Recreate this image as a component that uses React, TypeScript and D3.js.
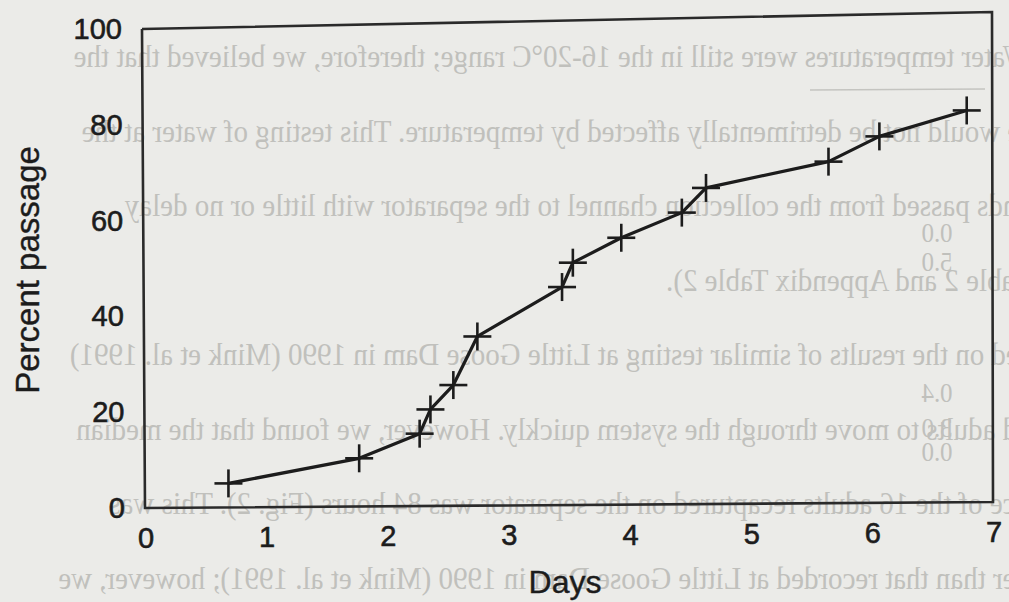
import React from 'react';
import * as d3 from 'd3';

// cumulative passage of recaptured adults
const days = [0.69, 1.77, 2.27, 2.36, 2.55, 2.75, 3.45, 3.54, 3.94, 4.44, 4.64, 5.65, 6.07, 6.79];
const percentPassage = [5, 10, 15, 20, 25, 35, 45, 50, 55, 60, 65, 70, 75, 80];

const xTicks = [0, 1, 2, 3, 4, 5, 6, 7];
const yTicks = [0, 20, 40, 60, 80, 100];
const xTitle = 'Days';
const yTitle = 'Percent passage';

// text from the back of the page, showing through the scan (mirrored)
const bleedLines = [
  'Water temperatures were still in the 16-20°C range; therefore, we believed that the',
  're would not be detrimentally affected by temperature.  This testing of water at the',
  'ends passed from the collection channel to the separator with little or no delay',
  'Table 2 and Appendix Table 2).',
  'sed on the results of similar testing at Little Goose Dam in 1990 (Mink et al. 1991)',
  'ed adults to move through the system quickly. However, we found that the median',
  'nce of the 16 adults recaptured on the separator was 84 hours (Fig. 2). This was',
  'ger than that recorded at Little Goose Dam in 1990 (Mink et al. 1991); however, we',
];
const bleedNumbers = ['0.0', '5.0', '0.4', '3.0', '0.0'];
const bleedNumberY = [233, 262, 393, 428, 452];

const W = 1009;
const H = 602;

// the scanned frame is a bit skewed, so keep its four corners
const TL = [142, 29];
const TR = [992, 12];
const BL = [145, 508];
const BR = [993, 502];

function warp(u: number, v: number) {
  const bx = BL[0] + (BR[0] - BL[0]) * u;
  const by = BL[1] + (BR[1] - BL[1]) * u;
  const tx = TL[0] + (TR[0] - TL[0]) * u;
  const ty = TL[1] + (TR[1] - TL[1]) * u;
  return [bx + (tx - bx) * v, by + (ty - by) * v];
}

const x = d3.scaleLinear().domain([0, 7]).range([0, 1]);
const y = d3.scaleLinear().domain([0, 100]).range([0, 1]);

const ink = '#1c1c1c';
const font = "'Liberation Sans', Arial, Helvetica, sans-serif";

export default function App() {
  const pts = days.map((d, i) => warp(x(d), y(percentPassage[i])));
  const line = d3.line<number[]>().x(p => p[0]).y(p => p[1]);
  const frame = line([TL, TR, BR, BL, TL]);
  const arm = 14;

  return (
    <div style={{ position: 'absolute', left: 0, top: 0 }}>
      <svg width={W} height={H} style={{ display: 'block' }}>
        <rect width={W} height={H} fill="#ebebe8" />

        <g fill="#c0c0bc" fontFamily="'Liberation Serif', 'DejaVu Serif', serif" fontSize={29}>
          {bleedLines.map((t, i) => (
            <text key={i} textAnchor="start"
              transform={`translate(1030,${67 + i * 74.5}) scale(-1,1.12)`}>{t}</text>
          ))}
          {bleedNumbers.map((t, i) => (
            <text key={'n' + i} textAnchor="middle" fontSize={25}
              transform={`translate(937,${bleedNumberY[i] + 9}) scale(-1,1.1)`}>{t}</text>
          ))}
        </g>
        <line x1={810} x2={985} y1={90} y2={89} stroke="#c4c4c0" strokeWidth={1.5} />

        <path d={frame || ''} fill="none" stroke="#2a2a2a" strokeWidth={2.6} />

        <path d={line(pts) || ''} fill="none" stroke={ink} strokeWidth={3.2} strokeLinejoin="round" />
        {pts.map((p, i) => (
          <g key={i} stroke={ink} strokeWidth={2.6}>
            <line x1={p[0] - arm} x2={p[0] + arm} y1={p[1]} y2={p[1]} />
            <line x1={p[0]} x2={p[0]} y1={p[1] - arm} y2={p[1] + arm} />
          </g>
        ))}

        <g fontFamily={font} fontSize={29} fill={ink} stroke={ink} strokeWidth={0.6}>
          {xTicks.map(t => {
            const p = warp(x(t), 0);
            return (
              <text key={t} x={p[0] + 1} y={p[1] + 30} textAnchor="middle" dominantBaseline="central">{t}</text>
            );
          })}
          {yTicks.map(t => {
            const p = warp(0, y(t));
            return (
              <text key={t} x={p[0] - 20} y={p[1]} textAnchor="end" dominantBaseline="central">{t}</text>
            );
          })}
        </g>

        <text x={565} y={582} fontFamily={font} fontSize={32} fill={ink} stroke={ink} strokeWidth={0.4}
          textAnchor="middle" dominantBaseline="central">{xTitle}</text>
        <text transform="translate(27,270) rotate(-90)" fontFamily={font} fontSize={33} fill={ink}
          stroke={ink} strokeWidth={0.4} textAnchor="middle" dominantBaseline="central">{yTitle}</text>
      </svg>
    </div>
  );
}
